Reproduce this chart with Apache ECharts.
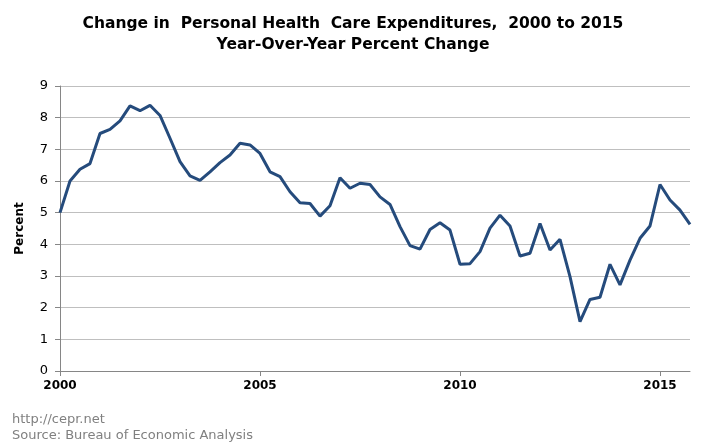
<!DOCTYPE html>
<html>
<head>
<meta charset="utf-8">
<script src="https://cdn.jsdelivr.net/npm/echarts@6/dist/echarts.min.js"></script>
<style>
  html, body { margin: 0; padding: 0; background: #fff; }
  #chart { width: 706px; height: 448px; }
</style>
</head>
<body>
<div id="chart"></div>
<script>
// quarterly, 2000 Q1 .. 2015 Q4
const quarters = [];
for (let y = 2000; y <= 2015; y++) {
  for (let q = 1; q <= 4; q++) quarters.push(y + " Q" + q);
}

const pctChange = [
  5.00, 6.00, 6.37, 6.55, 7.50, 7.63, 7.90, 8.37, 8.22, 8.39, 8.07, 7.35,
  6.61, 6.16, 6.02, 6.29, 6.58, 6.82, 7.19, 7.14, 6.87, 6.29, 6.14, 5.66,
  5.31, 5.29, 4.89, 5.22, 6.10, 5.77, 5.93, 5.89, 5.50, 5.26, 4.56, 3.96,
  3.85, 4.47, 4.68, 4.45, 3.37, 3.39, 3.77, 4.51, 4.92, 4.58, 3.63, 3.72,
  4.66, 3.82, 4.16, 2.98, 1.56, 2.26, 2.33, 3.37, 2.72, 3.50, 4.19, 4.58,
  5.89, 5.40, 5.08, 4.63
];

const yTicks = [0, 1, 2, 3, 4, 5, 6, 7, 8, 9];

const font = "Verdana, 'DejaVu Sans', sans-serif";

const chart = echarts.init(document.getElementById("chart"));
chart.setOption({
  animation: false,
  title: {
    text: "Change in  Personal Health  Care Expenditures,  2000 to 2015\nYear-Over-Year Percent Change",
    left: "center",
    top: 8,
    textStyle: {
      fontFamily: font,
      fontSize: 15.5,
      fontWeight: "bold",
      color: "#000",
      lineHeight: 21
    }
  },
  graphic: [
    {
      type: "text",
      left: 12,
      top: 412,
      style: {
        text: "http://cepr.net\nSource: Bureau of Economic Analysis",
        fontFamily: font,
        fontSize: 13,
        lineHeight: 16,
        fill: "#808080"
      }
    }
  ],
  grid: { left: 60, right: 16, top: 86, bottom: 77 },
  xAxis: {
    type: "category",
    data: quarters,
    boundaryGap: false,
    axisLine: { lineStyle: { color: "#868686" } },
    axisTick: {
      show: true,
      length: 5,
      interval: (i) => i % 20 === 0,
      lineStyle: { color: "#868686" }
    },
    axisLabel: {
      interval: (i) => i % 20 === 0,
      formatter: (v) => v.slice(0, 4),
      fontFamily: font,
      fontSize: 12,
      fontWeight: "bold",
      color: "#000",
      margin: 9
    },
    splitLine: { show: false }
  },
  yAxis: {
    type: "value",
    min: yTicks[0],
    max: yTicks[yTicks.length - 1],
    interval: 1,
    name: "Percent",
    nameLocation: "middle",
    nameGap: 34,
    nameTextStyle: {
      fontFamily: font,
      fontSize: 12,
      fontWeight: "bold",
      color: "#000"
    },
    axisLine: { show: true, lineStyle: { color: "#868686" } },
    axisTick: { show: true, length: 5, lineStyle: { color: "#868686" } },
    axisLabel: {
      fontFamily: font,
      fontSize: 13,
      color: "#000",
      margin: 12
    },
    splitLine: { lineStyle: { color: "#bfbfbf", width: 1 } }
  },
  series: [
    {
      type: "line",
      data: pctChange,
      symbol: "none",
      lineStyle: { color: "#254b7c", width: 3 },
      itemStyle: { color: "#254b7c" }
    }
  ]
});
</script>
</body>
</html>
